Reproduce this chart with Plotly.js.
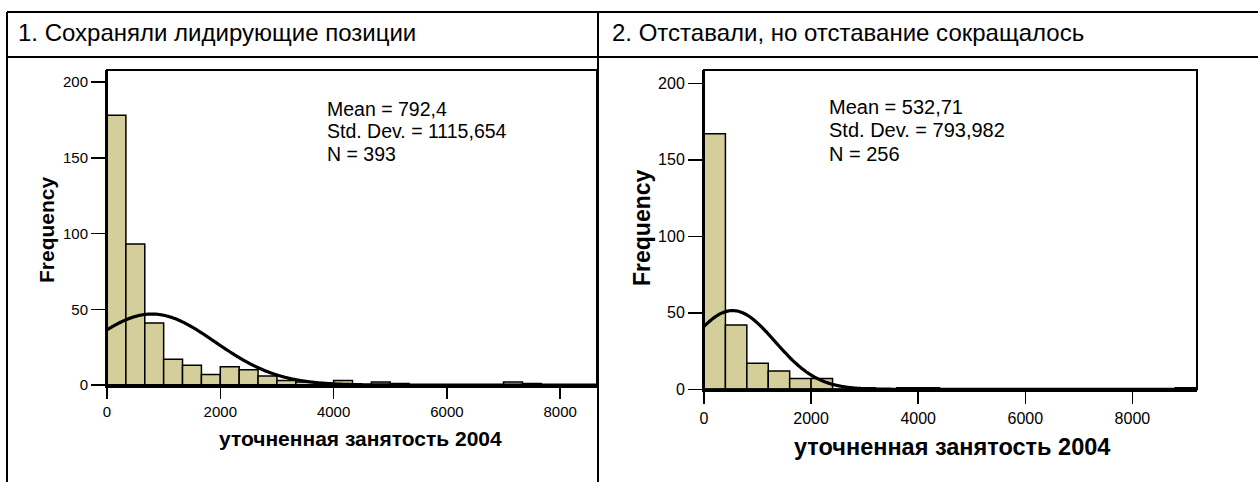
<!DOCTYPE html>
<html>
<head>
<meta charset="utf-8">
<script src="https://cdn.plot.ly/plotly-3.0.1.min.js"></script>
<style>
html,body{margin:0;padding:0;background:#fff;}
#chart{width:1258px;height:482px;}
</style>
</head>
<body>
<div id="chart"></div>
<script>
// ---- data ----
const panelTitles = ["1. Сохраняли лидирующие позиции", "2. Отставали, но отставание сокращалось"];
const xAxisTitle = "уточненная занятость 2004";
const yAxisTitle = "Frequency";
const xTickVals = [0, 2000, 4000, 6000, 8000];
const yTickVals = [0, 50, 100, 150, 200];

// panel 1 histogram (bin width ~333.33)
const binWidth1 = 2000 / 6;
const counts1 = [178, 93, 41, 17, 13, 7, 12, 10, 6, 3, 2, 1, 3, 0, 2, 1, 0, 0, 0, 0, 0, 2, 1, 0, 0, 0, 1];
const stats1 = {mean: 792.4, sd: 1115.654, n: 393};
const statsText1 = ["Mean = 792,4", "Std. Dev. = 1115,654", "N = 393"];

// panel 2 histogram (bin width 400)
const binWidth2 = 400;
const counts2 = [167, 42, 17, 12, 7, 7, 0, 1, 0, 1, 1, 0, 0, 0, 0, 0, 0, 0, 0, 0, 0, 0, 1];
const stats2 = {mean: 532.71, sd: 793.982, n: 256};
const statsText2 = ["Mean = 532,71", "Std. Dev. = 793,982", "N = 256"];

// ---- helpers ----
const W = 1258, H = 482;
const px = v => v / W;
const py = v => 1 - v / H;
const FONT = "Liberation Sans, Arial, sans-serif";
const barFill = "#d4cf9a";

function barTrace(counts, bw, xa, ya) {
  return {
    type: "bar",
    x: counts.map((c, i) => (i + 0.5) * bw),
    y: counts,
    width: counts.map(() => bw),
    marker: {color: barFill, line: {color: "#000", width: 1.5}},
    xaxis: xa, yaxis: ya, hoverinfo: "skip"
  };
}
function normalTrace(st, bw, xmax, xa, ya) {
  const xs = [], ys = [];
  for (let x = 0; x <= xmax; x += 20) {
    xs.push(x);
    const z = (x - st.mean) / st.sd;
    ys.push(st.n * bw / (st.sd * Math.sqrt(2 * Math.PI)) * Math.exp(-0.5 * z * z));
  }
  return {type: "scatter", mode: "lines", x: xs, y: ys,
    line: {color: "#000", width: 3.2, shape: "spline"},
    xaxis: xa, yaxis: ya, hoverinfo: "skip"};
}

const data = [
  barTrace(counts1, binWidth1, "x", "y"),
  normalTrace(stats1, binWidth1, 9000, "x", "y"),
  barTrace(counts2, binWidth2, "x2", "y2"),
  normalTrace(stats2, binWidth2, 9400, "x2", "y2")
];

function xAxis(d0, d1, rmax, anchor, fs, tl) {
  return {domain: [px(d0), px(d1)], range: [0, rmax], anchor: anchor,
    tickvals: xTickVals, ticktext: xTickVals.map(String),
    ticks: "outside", ticklen: tl, tickwidth: 1.5, tickcolor: "#000",
    showline: true, linewidth: 3, linecolor: "#000",
    showgrid: false, zeroline: false, fixedrange: true,
    tickfont: {family: FONT, size: fs, color: "#000"}};
}
function yAxis(top, bottom, pxPerUnit, anchor, fs, tl) {
  return {domain: [py(bottom), py(top)], range: [0, (bottom - top) / pxPerUnit], anchor: anchor,
    tickvals: yTickVals, ticktext: yTickVals.map(String),
    ticks: "outside", ticklen: tl, tickwidth: 1.5, tickcolor: "#000",
    showline: true, linewidth: 2, linecolor: "#000",
    showgrid: false, zeroline: false, fixedrange: true,
    tickfont: {family: FONT, size: fs, color: "#000"}};
}

const lineStyle = {color: "#000", width: 2};
const shapes = [
  {type: "line", xref: "paper", yref: "paper", x0: px(7), x1: px(1258), y0: py(12), y1: py(12), line: lineStyle},
  {type: "line", xref: "paper", yref: "paper", x0: px(7), x1: px(1258), y0: py(57), y1: py(57), line: lineStyle},
  {type: "line", xref: "paper", yref: "paper", x0: px(7), x1: px(7), y0: py(12), y1: py(482), line: lineStyle},
  {type: "line", xref: "paper", yref: "paper", x0: px(598), x1: px(598), y0: py(12), y1: py(482), line: lineStyle},
  {type: "rect", xref: "x domain", yref: "y domain", x0: 0, x1: 1, y0: 0, y1: 1, line: {color: "#000", width: 2}},
  {type: "rect", xref: "x2 domain", yref: "y2 domain", x0: 0, x1: 1, y0: 0, y1: 1, line: {color: "#000", width: 2}}
];

function ann(text, x, y, size, opts) {
  return Object.assign({text: text, x: px(x), y: py(y), xref: "paper", yref: "paper",
    showarrow: false, xanchor: "left", yanchor: "middle",
    font: {family: FONT, size: size, color: "#000"}}, opts || {});
}
const bold = s => "<b>" + s + "</b>";
const annotations = [
  ann(panelTitles[0], 16, 33, 24),
  ann(panelTitles[1], 610, 33, 24),
  ann(statsText1[0], 325, 109, 19.5),
  ann(statsText1[1], 325, 131.5, 19.5),
  ann(statsText1[2], 325, 154, 19.5),
  ann(statsText2[0], 827, 107, 20),
  ann(statsText2[1], 827, 130.3, 20),
  ann(statsText2[2], 827, 153.7, 20),
  ann(bold(yAxisTitle), 46, 230, 21, {xanchor: "center", textangle: -90}),
  ann(bold(yAxisTitle), 642, 228, 23, {xanchor: "center", textangle: -90}),
  ann(bold(xAxisTitle), 360, 438, 21, {xanchor: "center"}),
  ann(bold(xAxisTitle), 952, 447, 23.5, {xanchor: "center"})
];

const layout = {
  width: W, height: H,
  margin: {l: 0, r: 0, t: 0, b: 0},
  paper_bgcolor: "#fff", plot_bgcolor: "#fff",
  showlegend: false, bargap: 0,
  xaxis: xAxis(107, 597, (597 - 107) / 113.3 * 2000, "y", 15, 11),
  yaxis: yAxis(70, 385, 1.515, "x", 15, 14),
  xaxis2: xAxis(704, 1197, (1197 - 704) / 107.1 * 2000, "y2", 16, 12),
  yaxis2: yAxis(70, 389.3, 1.53, "x2", 16, 14),
  shapes: shapes,
  annotations: annotations
};

Plotly.newPlot("chart", data, layout, {displayModeBar: false, staticPlot: true});
</script>
</body>
</html>
